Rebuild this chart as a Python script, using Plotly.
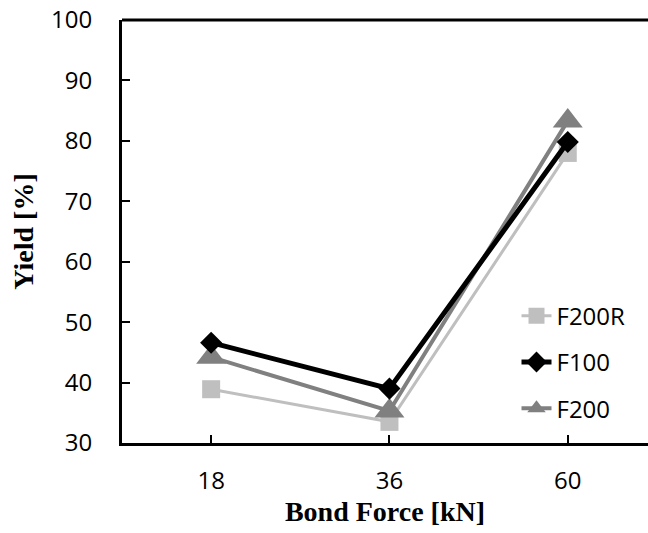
import plotly.graph_objects as go

categories = ["18", "36", "60"]
f200r = [38.9, 33.5, 78.0]
f100 = [46.6, 39.0, 79.8]
f200 = [44.2, 35.3, 83.3]

fig = go.Figure()
fig.add_trace(go.Scatter(x=categories, y=f200r, name="F200R", mode="lines+markers",
                         line=dict(color="#BFBFBF", width=3),
                         marker=dict(symbol="square", size=18, color="#BFBFBF"),
                         legendrank=1, legendgroup="a"))
fig.add_trace(go.Scatter(x=categories, y=f200, name="F200", mode="lines+markers",
                         line=dict(color="#808080", width=4),
                         marker=dict(symbol="triangle-up", size=26, color="#808080"),
                         legendrank=3, legendgroup="c"))
fig.add_trace(go.Scatter(x=categories, y=f100, name="F100", mode="lines+markers",
                         line=dict(color="#000000", width=5),
                         marker=dict(symbol="diamond", size=17, color="#000000"),
                         legendrank=2, legendgroup="b"))

fig.update_layout(
    width=648, height=533,
    margin=dict(l=122, r=0, t=20, b=90),
    plot_bgcolor="white", paper_bgcolor="white",
    font=dict(family="Open Sans", size=24, color="#000000"),
    showlegend=True,
    legend=dict(x=0.75, y=0.353, xanchor="left", yanchor="top",
                bgcolor="rgba(0,0,0,0)", tracegroupgap=12,
                font=dict(family="Open Sans", size=24)),
    xaxis=dict(type="category", range=[-0.5, 2.45], showgrid=False,
               showline=True, linecolor="black", linewidth=3,
               ticks="inside", ticklen=8, tickwidth=2, tickcolor="black",
               ticklabelstandoff=14,
               title=dict(text="<b>Bond Force [kN]</b>", standoff=0,
                          font=dict(family="Liberation Serif", size=28))),
    yaxis=dict(range=[30, 100], dtick=10, showgrid=False, zeroline=False,
               showline=True, linecolor="black", linewidth=3,
               ticks="inside", ticklen=8, tickwidth=2, tickcolor="black",
               ticklabelstandoff=22,
               title=dict(text="<b>Yield [%]</b>", standoff=10,
                          font=dict(family="Liberation Serif", size=28))),
)
fig.add_shape(type="line", xref="paper", yref="paper", x0=0, x1=1, y0=1, y1=1,
              line=dict(color="black", width=3))

fig.write_html("out.html")
